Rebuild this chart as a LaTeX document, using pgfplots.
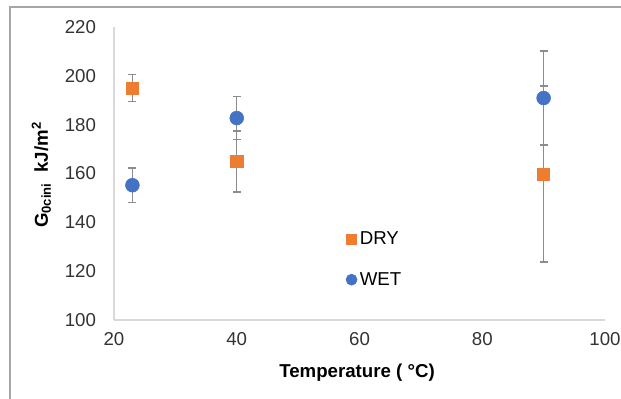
\documentclass[border=0pt]{standalone}
\usepackage{pgfplots}
\pgfplotsset{compat=1.18}
\usepackage{fontspec}
\setmainfont{Liberation Sans}
\definecolor{dryc}{HTML}{ED7D31}
\definecolor{wetc}{HTML}{4472C4}
\definecolor{errc}{HTML}{8C8C8C}
\definecolor{axc}{HTML}{D9D9D9}
\definecolor{framec}{HTML}{A6A6A6}
\begin{document}
\begin{tikzpicture}[x=0.75pt,y=0.75pt]
\path[use as bounding box] (0,0) rectangle (621,399);
\draw[framec, line width=0.9pt] (10,0) -- (10,392) -- (621,392);
\begin{axis}[
  at={(85.5pt,59.25pt)}, anchor=south west,
  scale only axis, width=368.25pt, height=219.75pt,
  xmin=20, xmax=100, ymin=100, ymax=220,
  xtick={20,40,60,80,100}, ytick={100,120,...,220},
  axis x line=bottom, axis y line=left,
  axis line style={-, axc, line width=1.3pt},
  major tick length=0pt,
  tick label style={font=\fontsize{14}{16}\selectfont, text=black!80},
  /pgf/number format/assume math mode=true,
  yticklabel style={xshift=-10pt},
  xticklabel style={yshift=-6pt},
  xlabel={\textbf{Temperature ( °C)}},
  ylabel={\textbf{G\textsubscript{0cini}\ \ kJ/m\textsuperscript{2}}},
  label style={font=\fontsize{14}{16}\selectfont},
  xlabel style={at={(axis description cs:0.495,-0.181)}, anchor=center},
  ylabel style={at={(axis description cs:-0.148,0.495)}, anchor=center, rotate=0},
  legend style={draw=none, fill=none, at={(0.472,0.31)}, anchor=north west,
    font=\fontsize{14}{16}\selectfont, row sep=15pt, inner sep=0pt},
  legend cell align=left,
  legend image code/.code={\draw[#1,/tikz/every mark/.append style={scale=0.8}] plot coordinates {(0.1cm,0cm)};},
  clip=false,
]
% error bars
\addplot[forget plot, draw=none, mark=none,
  error bars/.cd, y dir=both, y explicit,
  error bar style={errc, line width=1.1pt},
  error mark options={errc, line width=1.1pt, mark size=3pt, rotate=90}]
  table[x=x, y=y, y error=e] {
x y e
23 195 5.5
40 165 12.5
90 159.8 36
};
\addplot[forget plot, draw=none, mark=none,
  error bars/.cd, y dir=both, y explicit,
  error bar style={errc, line width=1.1pt},
  error mark options={errc, line width=1.1pt, mark size=3pt, rotate=90}]
  table[x=x, y=y, y error=e] {
x y e
23 155.2 7
40 182.7 8.8
90 190.9 19.3
};
\addplot[only marks, mark=square*, mark size=4.6pt, color=dryc] table[x=x,y=y] {
x y
23 195
40 165
90 159.8
};
\addlegendentry{DRY}
\addplot[only marks, mark=*, mark size=5.2pt, color=wetc] table[x=x,y=y] {
x y
23 155.2
40 182.7
90 190.9
};
\addlegendentry{WET}
\end{axis}
\end{tikzpicture}
\end{document}
